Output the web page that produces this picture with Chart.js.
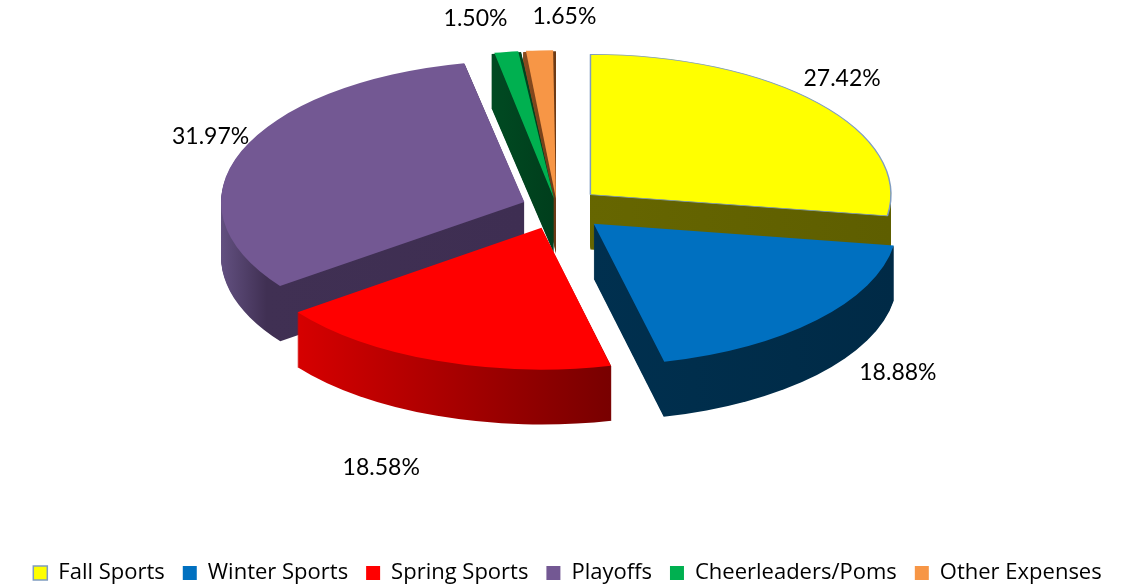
<!DOCTYPE html>
<html><head><meta charset="utf-8">
<script src="https://cdn.jsdelivr.net/npm/chart.js@4"></script>
<style>html,body{margin:0;padding:0;background:#fff;overflow:hidden}</style>
</head><body>
<canvas id="c" width="1135" height="586"></canvas>
<script>
// ---- data ----
const categories = ['Fall Sports', 'Winter Sports', 'Spring Sports', 'Playoffs', 'Cheerleaders/Poms', 'Other Expenses'];
const shares = [27.42, 18.88, 18.58, 31.97, 1.50, 1.65];
const percentLabels = ['27.42%', '18.88%', '18.58%', '31.97%', '1.50%', '1.65%'];

// ---- styles ----
const topColors = ['#FFFF00', '#0070C0', '#FF0000', '#735893', '#00B050', '#F79646'];
const sideStops = [
  [[0, '#666600'], [1, '#5E5E00']],
  [[0, '#00304F'], [1, '#002A46']],
  [[0, '#D60000'], [1, '#780000']],
  [[0, '#625080'], [0.15, '#403053'], [1, '#3E2E52']],
  [[0, '#004A22'], [1, '#003E1C']],
  [[0, '#8A4C20'], [1, '#6C3A16']]
];
const explodeAmount = [176, 200, 180, 140, 80, 80];
const borderColors = ['#7F9CC0', '#0070C0', '#FF0000', '#735893', '#00B050', '#F79646'];
const borderWidths = [1.5, 0, 0, 0, 0, 0];

const CX = 557, CY = 208, K = 0.467, DEPTH = 55, RADIUS = 300;
const LABEL_K_FRONT = 0.7, LABEL_K_BACK = 1.2, LABEL_GAP = 34, FRONT_GAP = 92, MIN_SEP = 25;

function geom(a) {
  const off = (a.options.offset || 0) / 4;
  const half = (a.startAngle + a.endAngle) / 2;
  const circ = a.endAngle - a.startAngle;
  const fix = 1 - Math.sin(Math.min(Math.PI, circ));
  return {
    cx: a.x + Math.cos(half) * off,
    cy: a.y + Math.sin(half) * off,
    r: a.outerRadius + off * fix,
    half: half
  };
}

const pie3d = {
  id: 'pie3d',
  beforeDatasetsDraw(chart) {
    const ctx = chart.ctx;
    const arcs = chart.getDatasetMeta(0).data;
    const x0 = arcs[0].x, y0 = arcs[0].y;
    ctx.save();
    ctx.translate(CX - x0, CY);
    ctx.scale(1, K);
    ctx.translate(0, -y0);
    const order = arcs.map((a, i) => i).sort((i, j) => Math.sin(geom(arcs[i]).half) - Math.sin(geom(arcs[j]).half));
    for (const i of order) {
      const a = arcs[i];
      const g = geom(a);
      let xmin = g.cx, xmax = g.cx;
      for (let t = 0; t <= 40; t++) {
        const ang = a.startAngle + (a.endAngle - a.startAngle) * t / 40;
        const px = g.cx + Math.cos(ang) * g.r;
        xmin = Math.min(xmin, px); xmax = Math.max(xmax, px);
      }
      const grad = ctx.createLinearGradient(xmin, 0, xmax, 0);
      for (const [p, c] of sideStops[i]) grad.addColorStop(p, c);
      ctx.fillStyle = grad;
      for (let s = DEPTH; s >= 1; s--) {
        const yy = g.cy + s / K;
        ctx.beginPath();
        ctx.moveTo(g.cx, yy);
        ctx.arc(g.cx, yy, g.r, a.startAngle, a.endAngle);
        ctx.closePath();
        ctx.fill();
      }
    }
  },
  afterDatasetsDraw(chart) {
    const ctx = chart.ctx;
    ctx.restore();
    const arcs = chart.getDatasetMeta(0).data;
    const x0 = arcs[0].x, y0 = arcs[0].y;
    ctx.save();
    ctx.font = '23px Lato';
    ctx.fillStyle = '#000';
    ctx.textAlign = 'center';
    ctx.textBaseline = 'middle';
    const boxes = arcs.map((a, i) => {
      const g = geom(a);
      const c = Math.cos(g.half), s = Math.sin(g.half);
      const vx = g.cx + CX - x0, vy = CY + (g.cy - y0) * K;
      const ax = vx + c * g.r, ay = vy + s * g.r * K;
      const lk = s > 0 ? LABEL_K_FRONT : LABEL_K_BACK;
      const len = Math.hypot(c, s * lk);
      const ux = c / len, uy = s * lk / len;
      const dist = LABEL_GAP + FRONT_GAP * Math.max(0, s);
      const txt = percentLabels[i];
      return { txt, x: ax + ux * dist, y: Math.max(14, ay + uy * dist), w: ctx.measureText(txt).width, h: 24 };
    });
    // simple overlap avoidance: push overlapping labels apart horizontally
    for (let pass = 0; pass < 5; pass++) {
      for (let i = 0; i < boxes.length; i++) {
        for (let j = i + 1; j < boxes.length; j++) {
          const A = boxes[i], B = boxes[j];
          const need = (A.w + B.w) / 2 + MIN_SEP;
          const dx = B.x - A.x;
          if (Math.abs(dx) < need && Math.abs(B.y - A.y) < (A.h + B.h) / 2) {
            const push = (need - Math.abs(dx)) / 2;
            const sg = dx >= 0 ? 1 : -1;
            A.x -= sg * push; B.x += sg * push;
          }
        }
      }
    }
    boxes.forEach(b => ctx.fillText(b.txt, b.x, b.y));
    ctx.restore();
  }
};

new Chart(document.getElementById('c'), {
  type: 'pie',
  data: {
    labels: categories,
    datasets: [{
      data: shares,
      backgroundColor: topColors,
      borderColor: borderColors,
      borderWidth: borderWidths,
      offset: explodeAmount,
      radius: RADIUS,
      clip: false
    }]
  },
  options: {
    responsive: false,
    animation: false,
    layout: { padding: { bottom: -8 } },
    plugins: {
      tooltip: { enabled: false },
      legend: {
        position: 'bottom',
        labels: {
          font: { family: 'Open Sans', size: 22 },
          color: '#000',
          boxWidth: 14,
          boxHeight: 14,
          padding: 18
        }
      }
    }
  },
  plugins: [pie3d]
});
</script>
</body></html>
